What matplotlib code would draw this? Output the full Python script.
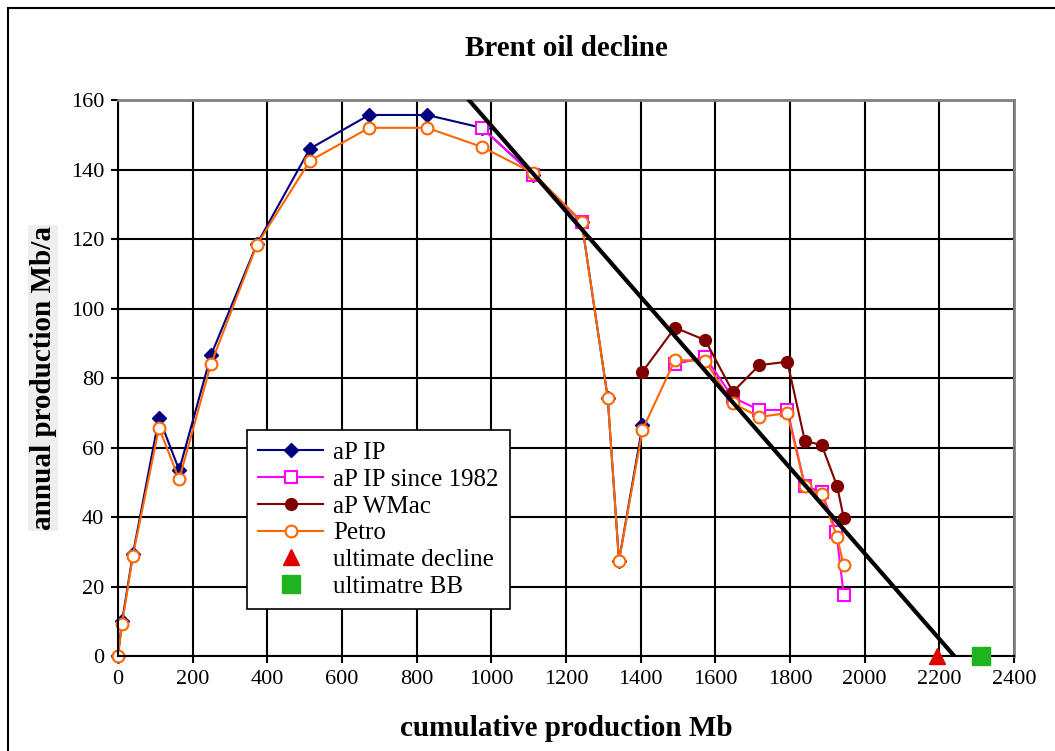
import numpy as np
import matplotlib.pyplot as plt
from matplotlib.patches import Rectangle

plt.rcParams['font.family'] = ['Liberation Serif', 'DejaVu Serif']

# cumulative production (Mb) and annual production (Mb/a)
ip_x = [0, 11, 40, 110, 164, 249, 372, 514, 673, 828, 975, 1112, 1242, 1312, 1342, 1405]
ip_y = [0, 10, 29.3, 68.6, 53.5, 86.5, 118.5, 146, 155.7, 155.7, 152, 138.5, 125, 74.2, 27.4, 66.4]

since82_x = [975, 1112, 1242, 1312, 1492, 1573, 1647, 1718, 1793, 1840, 1885, 1924, 1944]
since82_y = [152, 138.5, 125, np.nan, 84, 86, 74.4, 70.8, 70.8, 49, 47.2, 35.8, 17.6]

wmac_x = [1405, 1492, 1573, 1647, 1718, 1793, 1840, 1885, 1926, 1944]
wmac_y = [81.8, 94.5, 90.9, 76, 83.7, 84.7, 61.9, 60.7, 49, 39.8]

petro_x = [0, 11, 40, 110, 164, 249, 372, 514, 673, 828, 975, 1112, 1242, 1312, 1342,
           1405, 1492, 1573, 1647, 1718, 1793, 1840, 1885, 1926, 1944]
petro_y = [0, 9.2, 28.9, 65.7, 50.8, 84.0, 118.3, 142.5, 152, 152, 146.5, 139, 125, 74.2, 27.4,
           65.1, 85.2, 84.9, 72.7, 68.8, 69.9, 48.8, 46.5, 34.3, 26.1]

decline_x = [940, 2240]
decline_y = [160, 0]

ult_decline = (2195, 0)
ult_bb = (2311, 0)

fig = plt.figure(figsize=(10.55, 7.51), dpi=100)
ax = fig.add_axes([0.1118, 0.1265, 0.8493, 0.7403])

ax.plot(ip_x, ip_y, color='#000080', marker='D', markersize=7.5, lw=1.5,
        clip_on=False, label='aP IP')
ax.plot(since82_x, since82_y, color='#FF00FF', marker='s', markersize=8.5, mfc='white',
        mew=1.5, lw=1.5, label='aP IP since 1982')
ax.plot(wmac_x, wmac_y, color='#800000', marker='o', markersize=8.5, lw=1.5, label='aP WMac')
ax.plot(petro_x, petro_y, color='#FF6600', marker='o', markersize=8.5, mfc='white',
        mew=1.5, lw=1.5, clip_on=False, label='Petro')
ax.plot(*ult_decline, ls='none', marker='^', color='#E00000', markersize=11,
        clip_on=False, zorder=5, label='ultimate decline')
ax.plot(*ult_bb, ls='none', marker='s', color='#1FB31F', markersize=13,
        clip_on=False, zorder=5, label='ultimatre BB')
ax.plot(decline_x, decline_y, color='black', lw=3, zorder=6)

ax.set_xlim(0, 2400)
ax.set_ylim(0, 160)
ax.set_xticks(np.arange(0, 2401, 200))
ax.set_yticks(np.arange(0, 161, 20))
ax.grid(True, color='black', lw=1.5)
ax.set_axisbelow(True)
ax.tick_params(labelsize=16, length=5, width=1.5, direction='out', pad=5)
for s in ['left', 'bottom']:
    ax.spines[s].set_color('black')
    ax.spines[s].set_linewidth(1.5)
for s in ['top', 'right']:
    ax.spines[s].set_color('#808080')
    ax.spines[s].set_linewidth(2)

ax.set_title('Brent oil decline', fontsize=21, fontweight='bold', pad=32)
ax.set_xlabel('cumulative production Mb', fontsize=21, fontweight='bold', labelpad=19)
ax.set_ylabel('annual production Mb/a', fontsize=21, fontweight='bold', labelpad=10,
              bbox=dict(facecolor='#eeeeee', edgecolor='none', pad=1))

leg = ax.legend(loc='lower left', bbox_to_anchor=(0.144, 0.0845), fontsize=18,
                handlelength=2.6, frameon=True, fancybox=False, borderpad=0.45,
                labelspacing=0.17, handletextpad=0.4, borderaxespad=0)
leg.get_frame().set_edgecolor('black')
leg.get_frame().set_linewidth(1.2)
leg.get_frame().set_alpha(1)

fig.patches.append(Rectangle((8 / 1055, -0.2), 1.2, 1.2 - 8 / 751, transform=fig.transFigure,
                             fill=False, edgecolor='black', lw=1.5))

fig.savefig('out.png', dpi=100)
